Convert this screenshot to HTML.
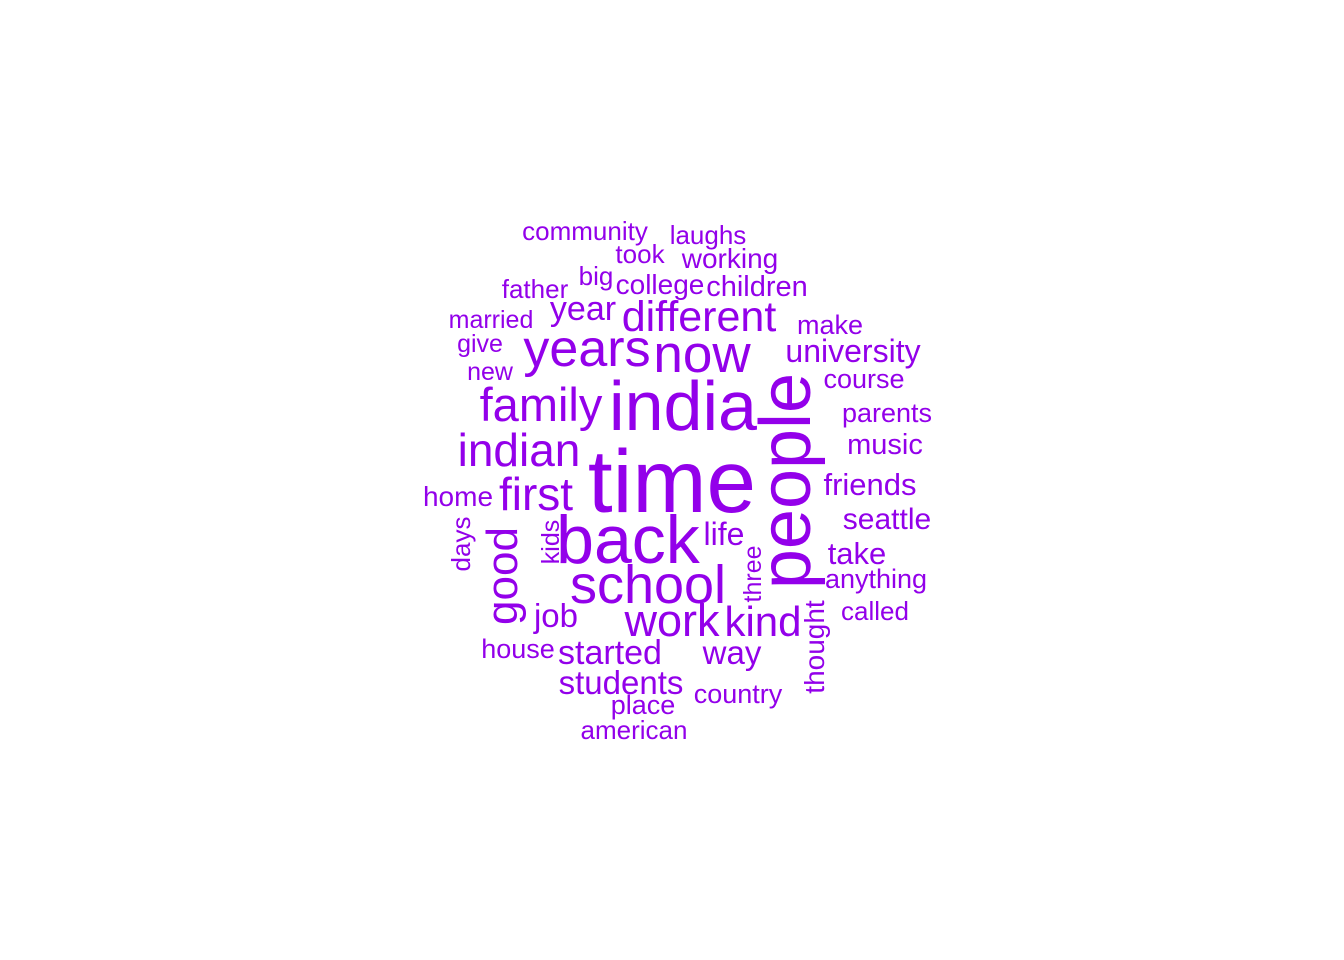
<!DOCTYPE html>
<html>
<head>
<meta charset="utf-8">
<style>
  html, body { margin: 0; padding: 0; background: #ffffff; }
  svg { display: block; }
  text { font-family: "Liberation Sans", Arial, sans-serif; fill: #9300EA; }
</style>
</head>
<body>
<svg id="cloud" width="1344" height="960" viewBox="0 0 1344 960" xmlns="http://www.w3.org/2000/svg">
  <rect width="1344" height="960" fill="#ffffff"></rect>
  <g id="words"></g>
</svg>
<script>
const words = ["time","people","india","back","school","years","now","family","indian","first","different","work","kind","good","year","university","started","students","way","job","life","friends","seattle","take","home","music","parents","course","anything","called","make","children","college","working","laughs","took","community","big","father","married","give","new","house","country","place","american","days","kids","three","thought"];
const fontSizes = [89,72,70,68,54,52,53,47,46,46,43,45,42,44,34,32,34,33,33,33,32,31,30,31,28,29,27,27,27,26,27,29,28,28,26,26,26,26,26,25,25,25,27,27,27,26,26,25,25,28];
const centerX = [672,810,683,628,648,587,702,541,519,536,699,672,763,517,583,853,610,621,732,556,724,870,887,857,458,885,887,864,876,875,830,757,660,730,708,640,585,596,535,491,480,490,518,738,643,634,470,559,761,824];
const baselineY = [512,481,430,563,603,366,372,421,466,510,331,636,636,576,320,362,664,694,664,627,545,495,529,564,506,454,422,388,588,620,334,296,294,268,244,263,240,285,298,328,352,380,658,703,714,739,544,542,574,647];
const rotated = [0,1,0,0,0,0,0,0,0,0,0,0,0,1,0,0,0,0,0,0,0,0,0,0,0,0,0,0,0,0,0,0,0,0,0,0,0,0,0,0,0,0,0,0,0,0,1,1,1,1];

const g = document.getElementById('words');
const NS = 'http://www.w3.org/2000/svg';
for (let i = 0; i < words.length; i++) {
  const t = document.createElementNS(NS, 'text');
  
  
  t.setAttribute('text-anchor', 'middle');
  t.setAttribute('font-size', fontSizes[i]);
  if (rotated[i]) {
    t.setAttribute('x', 0);
    t.setAttribute('y', 0);
    t.setAttribute('transform', 'translate(' + centerX[i] + ',' + baselineY[i] + ') rotate(-90)');
  } else {
    t.setAttribute('x', centerX[i]);
    t.setAttribute('y', baselineY[i]);
  }
  t.textContent = words[i];
  g.appendChild(t);
}
</script>
</body>
</html>
